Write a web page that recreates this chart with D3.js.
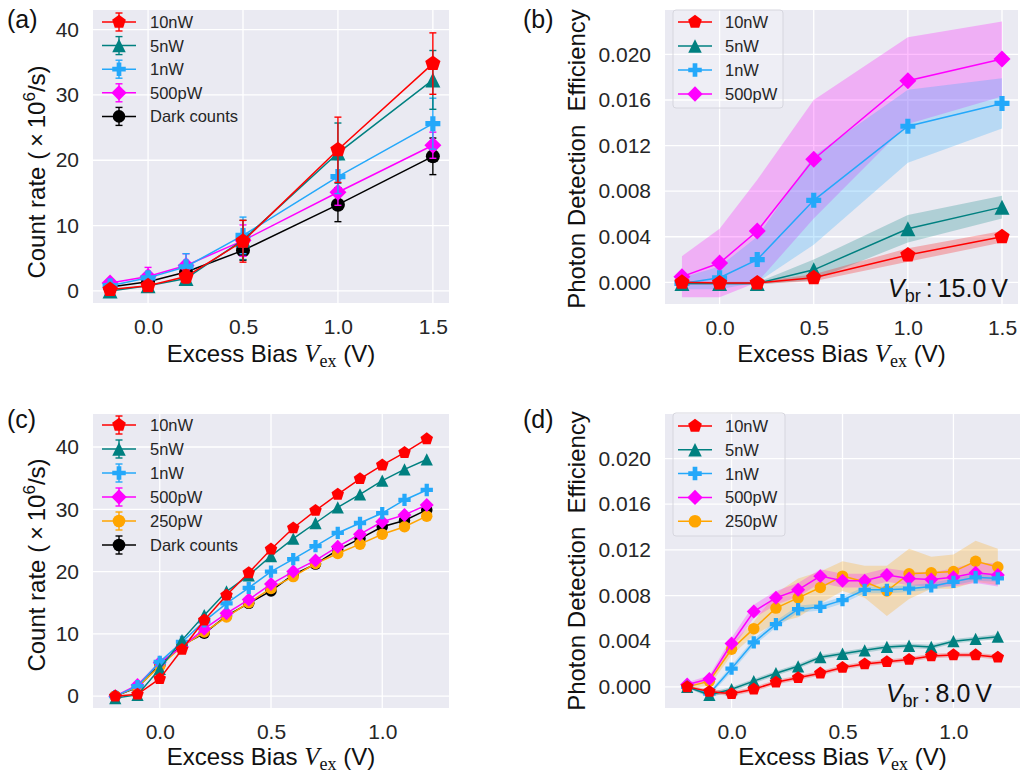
<!DOCTYPE html>
<html>
<head>
<meta charset="utf-8">
<script src="https://cdn.jsdelivr.net/npm/d3@7"></script>
<style>
body { margin: 0; background: #fff; }
text { font-family: "Liberation Sans", Arial, sans-serif; }
</style>
</head>
<body>
<script>
// ---- data ----
// (a) count rate, 15.0 V device
var xA = [-0.2, 0.0, 0.2, 0.5, 1.0, 1.5];
var a10nW = [0.2, 0.8, 2.2, 7.6, 21.6, 34.8];
var a10nWErr = [0.3, 0.5, 1.0, 3.2, 5.0, 4.7];
var a5nW = [0.0, 0.8, 1.9, 7.8, 21.1, 32.3];
var a5nWErr = [0.3, 0.5, 1.0, 3.0, 4.6, 4.5];
var a1nW = [0.8, 2.0, 3.7, 8.5, 17.5, 25.6];
var a1nWErr = [0.4, 0.8, 2.0, 2.8, 2.6, 3.9];
var a500pW = [1.2, 2.2, 3.9, 7.7, 15.1, 22.3];
var a500pWErr = [0.6, 1.4, 1.8, 2.4, 2.0, 2.0];
var aDark = [0.6, 1.4, 2.9, 6.2, 13.2, 20.6];
var aDarkErr = [0.4, 0.6, 1.0, 1.5, 2.6, 2.8];

// (b) PDE, 15.0 V device
var xB = [-0.2, 0.0, 0.2, 0.5, 1.0, 1.5];
var b10nW = [0.0, -0.00005, -0.00005, 0.0004, 0.0024, 0.0040];
var b10nWErr = [0.0001, 0.0001, 0.0001, 0.0003, 0.0006, 0.0005];
var b5nW = [-0.0001, -0.0001, -0.0001, 0.0011, 0.0047, 0.0066];
var b5nWErr = [0.0001, 0.0001, 0.0001, 0.0009, 0.0012, 0.0010];
var b1nW = [-0.0001, 0.0004, 0.0020, 0.0072, 0.0137, 0.0157];
var b1nWErr = [0.0005, 0.0010, 0.0020, 0.0039, 0.0032, 0.0022];
var b500pW = [0.0005, 0.0017, 0.0045, 0.0108, 0.0177, 0.0196];
var b500pWErr = [0.0018, 0.0030, 0.0045, 0.0052, 0.0038, 0.0033];

// (c) count rate, 8.0 V device
var xC = [-0.2, -0.1, 0.0, 0.1, 0.2, 0.3, 0.4, 0.5, 0.6, 0.7, 0.8, 0.9, 1.0, 1.1, 1.2];
var c10nW = [0.0, 0.3, 2.8, 7.5, 12.2, 16.2, 19.8, 23.6, 27.0, 29.8, 32.4, 34.9, 37.1, 39.1, 41.3];
var c5nW = [-0.3, 0.2, 4.4, 9.0, 13.0, 16.8, 19.4, 22.5, 25.3, 27.8, 30.3, 32.4, 34.6, 36.4, 38.0];
var c1nW = [0.0, 1.6, 5.5, 8.7, 12.0, 14.9, 17.4, 20.0, 22.0, 24.1, 26.2, 27.8, 29.4, 31.5, 33.1];
var c500pW = [0.0, 1.8, 5.4, 7.9, 10.8, 13.3, 15.5, 18.0, 20.0, 21.8, 24.0, 26.0, 28.0, 29.1, 30.7];
var c250pW = [0.0, 1.5, 4.8, 8.0, 10.3, 12.7, 15.0, 17.3, 19.2, 21.3, 22.9, 24.4, 26.0, 27.2, 28.9];
var cDark = [0.0, 1.4, 5.0, 8.2, 10.1, 12.9, 14.9, 16.9, 19.5, 21.2, 23.5, 25.3, 27.2, 28.2, 29.9];

// (d) PDE, 8.0 V device
var xD = [-0.2, -0.1, 0.0, 0.1, 0.2, 0.3, 0.4, 0.5, 0.6, 0.7, 0.8, 0.9, 1.0, 1.1, 1.2];
var d10nW = [0.0, -0.0004, -0.0006, -0.0002, 0.0004, 0.0008, 0.0012, 0.0017, 0.0020, 0.0022, 0.0024, 0.0027, 0.0028, 0.0028, 0.0026];
var d10nWErr = [0.0001, 0.0002, 0.0002, 0.0002, 0.0002, 0.0002, 0.0002, 0.0002, 0.0002, 0.0002, 0.0002, 0.0002, 0.0002, 0.0002, 0.0002];
var d5nW = [0.0, -0.0007, -0.0002, 0.0005, 0.0012, 0.0018, 0.0026, 0.0029, 0.0032, 0.0035, 0.0036, 0.0035, 0.0040, 0.0042, 0.0044];
var d5nWErr = [0.0001, 0.0002, 0.0002, 0.0002, 0.0002, 0.0002, 0.0002, 0.0002, 0.0002, 0.0002, 0.0002, 0.0002, 0.0002, 0.0002, 0.0002];
var d1nW = [0.0, -0.0006, 0.0016, 0.0039, 0.0055, 0.0068, 0.0070, 0.0076, 0.0085, 0.0085, 0.0086, 0.0088, 0.0092, 0.0096, 0.0095];
var d1nWErr = [0.0001, 0.0002, 0.0003, 0.0003, 0.0003, 0.0003, 0.0003, 0.0003, 0.0003, 0.0003, 0.0003, 0.0003, 0.0003, 0.0003, 0.0003];
var d500pW = [0.0002, 0.0007, 0.0038, 0.0066, 0.0078, 0.0085, 0.0097, 0.0093, 0.0093, 0.0098, 0.0095, 0.0094, 0.0096, 0.0100, 0.0098];
var d500pWErr = [0.0002, 0.0003, 0.0005, 0.0006, 0.0006, 0.0006, 0.0006, 0.0006, 0.0006, 0.0006, 0.0006, 0.0006, 0.0008, 0.0009, 0.0010];
var d250pW = [0.0, 0.0005, 0.0033, 0.0051, 0.0069, 0.0078, 0.0087, 0.0097, 0.0092, 0.0084, 0.0099, 0.0100, 0.0101, 0.0110, 0.0105];
var d250pWErr = [0.0002, 0.0004, 0.0005, 0.0006, 0.0013, 0.0017, 0.0014, 0.0013, 0.0014, 0.0022, 0.0022, 0.0014, 0.0015, 0.0018, 0.0016];

var countTicks = [0, 10, 20, 30, 40];
var pdeTicks = [0, 0.004, 0.008, 0.012, 0.016, 0.020];
var biasTicksTop = [0, 0.5, 1.0, 1.5];
var biasTicksBottom = [0, 0.5, 1.0];

// colours
var RED = '#ff0000', TEAL = '#008080', BLUE = '#24a8fa', MAG = '#ff00ff', ORANGE = '#ffa500', BLACK = '#000000';

var width = 1021;
var height = 775;

var svg = d3.select('body')
    .append('svg')
    .attr('width', width)
    .attr('height', height);

// marker shapes, k scales the size
function markerPath(type, k) {
    var p = d3.path();
    if (type == 'pentagon') {
        var r = 8 * k;
        for (var i = 0; i < 5; i++) {
            var a = (-90 + 72 * i) * Math.PI / 180;
            if (i == 0) p.moveTo(r * Math.cos(a), r * Math.sin(a));
            else p.lineTo(r * Math.cos(a), r * Math.sin(a));
        }
        p.closePath();
    } else if (type == 'triangle') {
        var h = 7.5 * k;
        p.moveTo(0, -h); p.lineTo(h, h); p.lineTo(-h, h); p.closePath();
    } else if (type == 'plus') {
        var a1 = 7.5 * k, b = 2.6 * k;
        var pts = [[-b,-a1],[b,-a1],[b,-b],[a1,-b],[a1,b],[b,b],[b,a1],[-b,a1],[-b,b],[-a1,b],[-a1,-b],[-b,-b]];
        pts.forEach(function(q, i) { if (i == 0) p.moveTo(q[0], q[1]); else p.lineTo(q[0], q[1]); });
        p.closePath();
    } else if (type == 'diamond') {
        var d = 8.5 * k;
        p.moveTo(0, -d); p.lineTo(d, 0); p.lineTo(0, d); p.lineTo(-d, 0); p.closePath();
    } else {
        var rc = 7 * k;
        p.arc(0, 0, rc, 0, 2 * Math.PI);
        p.closePath();
    }
    return p.toString();
}

var panels = [
    {
        id: 'a', left: 93, right: 449, top: 10, bottom: 303,
        xDom: [-0.29, 1.585], yDom: [-1.85, 43.0],
        xTicks: biasTicksTop, yTicks: countTicks, yFmt: d3.format('d'),
        mode: 'err', k: 1, x: xA,
        series: [
            {name: '10nW', y: a10nW, e: a10nWErr, color: RED, m: 'pentagon'},
            {name: '5nW', y: a5nW, e: a5nWErr, color: TEAL, m: 'triangle'},
            {name: '1nW', y: a1nW, e: a1nWErr, color: BLUE, m: 'plus'},
            {name: '500pW', y: a500pW, e: a500pWErr, color: MAG, m: 'diamond'},
            {name: 'Dark counts', y: aDark, e: aDarkErr, color: BLACK, m: 'circle'}
        ],
        ylab: 'count', ylabX: 37, ylabC: 172, letter: '(a)', letterX: 7, letterY: 28, xlabY: 362,
        legend: {mx: 119, y0: 22, dy: 23.6, tx: 150, frame: null}
    },
    {
        id: 'b', left: 665, right: 1018, top: 10, bottom: 304,
        xDom: [-0.29, 1.585], yDom: [-0.0019, 0.0239],
        xTicks: biasTicksTop, yTicks: pdeTicks, yFmt: d3.format('.3f'),
        mode: 'band', k: 1, x: xB,
        series: [
            {name: '10nW', y: b10nW, e: b10nWErr, color: RED, m: 'pentagon'},
            {name: '5nW', y: b5nW, e: b5nWErr, color: TEAL, m: 'triangle'},
            {name: '1nW', y: b1nW, e: b1nWErr, color: BLUE, m: 'plus'},
            {name: '500pW', y: b500pW, e: b500pWErr, color: MAG, m: 'diamond'}
        ],
        ylab: 'pde', ylabX: 577, ylabC: 159, letter: '(b)', letterX: 523, letterY: 28, xlabY: 362,
        legend: {mx: 695, y0: 22, dy: 24, tx: 725, frame: [673, 10, 110, 98]},
        vbr: '15.0', vbrX: 1008, vbrY: 297
    },
    {
        id: 'c', left: 93, right: 449, top: 414, bottom: 708,
        xDom: [-0.3, 1.3], yDom: [-1.9, 45.3],
        xTicks: biasTicksBottom, yTicks: countTicks, yFmt: d3.format('d'),
        mode: 'err', k: 0.82, x: xC,
        series: [
            {name: '10nW', y: c10nW, e: null, color: RED, m: 'pentagon'},
            {name: '5nW', y: c5nW, e: null, color: TEAL, m: 'triangle'},
            {name: '1nW', y: c1nW, e: null, color: BLUE, m: 'plus'},
            {name: '500pW', y: c500pW, e: null, color: MAG, m: 'diamond'},
            {name: '250pW', y: c250pW, e: null, color: ORANGE, m: 'circle'},
            {name: 'Dark counts', y: cDark, e: null, color: BLACK, m: 'circle'}
        ],
        ylab: 'count', ylabX: 37, ylabC: 565, letter: '(c)', letterX: 7, letterY: 428, xlabY: 765,
        legend: {mx: 119, y0: 425, dy: 24, tx: 150, frame: null}
    },
    {
        id: 'd', left: 665, right: 1020, top: 414, bottom: 708,
        xDom: [-0.3, 1.3], yDom: [-0.00185, 0.0239],
        xTicks: biasTicksBottom, yTicks: pdeTicks, yFmt: d3.format('.3f'),
        mode: 'band', k: 0.82, x: xD,
        series: [
            {name: '10nW', y: d10nW, e: d10nWErr, color: RED, m: 'pentagon'},
            {name: '5nW', y: d5nW, e: d5nWErr, color: TEAL, m: 'triangle'},
            {name: '1nW', y: d1nW, e: d1nWErr, color: BLUE, m: 'plus'},
            {name: '500pW', y: d500pW, e: d500pWErr, color: MAG, m: 'diamond'},
            {name: '250pW', y: d250pW, e: d250pWErr, color: ORANGE, m: 'circle'}
        ],
        ylab: 'pde', ylabX: 577, ylabC: 561, letter: '(d)', letterX: 523, letterY: 428, xlabY: 765,
        legend: {mx: 695, y0: 426, dy: 23.8, tx: 725, frame: [673, 413, 112, 123]},
        vbr: '8.0', vbrX: 992, vbrY: 702
    }
];

panels.forEach(drawPanel);

function drawPanel(P) {
    var xScale = d3.scaleLinear().domain(P.xDom).range([P.left, P.right]);
    var yScale = d3.scaleLinear().domain(P.yDom).range([P.bottom, P.top]);
    var g = svg.append('g').attr('id', 'panel-' + P.id);

    // background
    g.append('rect')
        .attr('x', P.left).attr('y', P.top)
        .attr('width', P.right - P.left).attr('height', P.bottom - P.top)
        .attr('fill', '#eaeaf2');

    g.append('clipPath').attr('id', 'clip-' + P.id)
        .append('rect')
        .attr('x', P.left).attr('y', P.top)
        .attr('width', P.right - P.left).attr('height', P.bottom - P.top);

    // grid
    g.selectAll('.gx').data(P.xTicks).enter().append('line')
        .attr('x1', function(d) { return xScale(d); }).attr('x2', function(d) { return xScale(d); })
        .attr('y1', P.top).attr('y2', P.bottom)
        .attr('stroke', '#fff').attr('stroke-width', 1.3);
    g.selectAll('.gy').data(P.yTicks).enter().append('line')
        .attr('y1', function(d) { return yScale(d); }).attr('y2', function(d) { return yScale(d); })
        .attr('x1', P.left).attr('x2', P.right)
        .attr('stroke', '#fff').attr('stroke-width', 1.3);

    // axes (labels only)
    var xAxis = d3.axisBottom(xScale).tickValues(P.xTicks).tickFormat(d3.format('.1f')).tickSize(0).tickPadding(16);
    var xg = g.append('g').attr('transform', 'translate(0,' + P.bottom + ')').call(xAxis);
    var yAxis = d3.axisLeft(yScale).tickValues(P.yTicks).tickFormat(P.yFmt).tickSize(0).tickPadding(14);
    var yg = g.append('g').attr('transform', 'translate(' + P.left + ',0)').call(yAxis);
    [xg, yg].forEach(function(ax) {
        ax.select('.domain').remove();
        ax.selectAll('text').attr('font-size', 21).attr('fill', '#262626')
            .attr('font-family', '"Liberation Sans", Arial, sans-serif');
    });

    var plot = g.append('g').attr('clip-path', 'url(#clip-' + P.id + ')');
    var line = d3.line()
        .x(function(d) { return xScale(d[0]); })
        .y(function(d) { return yScale(d[1]); });

    // later legend entries sit underneath, 10nW ends up on top
    var drawOrder = P.series.slice().reverse();

    if (P.mode == 'band') {
        drawOrder.forEach(function(s) {
            var area = d3.area()
                .x(function(d, i) { return xScale(P.x[i]); })
                .y0(function(d, i) { return yScale(s.y[i] - s.e[i]); })
                .y1(function(d, i) { return yScale(s.y[i] + s.e[i]); });
            plot.append('path').datum(s.y)
                .attr('d', area)
                .attr('fill', s.color)
                .attr('fill-opacity', 0.25)
                .attr('stroke', 'none');
        });
    }

    drawOrder.forEach(function(s) {
        var pts = P.x.map(function(x, i) { return [x, s.y[i]]; });
        g.append('path').datum(pts)
            .attr('clip-path', 'url(#clip-' + P.id + ')')
            .attr('d', line)
            .attr('fill', 'none')
            .attr('stroke', s.color)
            .attr('stroke-width', 1.5);

        if (P.mode == 'err' && s.e) {
            var eg = g.append('g').attr('stroke', s.color).attr('stroke-width', 1.4);
            pts.forEach(function(p, i) {
                var cx = xScale(p[0]);
                var y1 = yScale(p[1] - s.e[i]), y2 = yScale(p[1] + s.e[i]);
                eg.append('line').attr('x1', cx).attr('x2', cx).attr('y1', y1).attr('y2', y2);
                eg.append('line').attr('x1', cx - 3.5).attr('x2', cx + 3.5).attr('y1', y1).attr('y2', y1);
                eg.append('line').attr('x1', cx - 3.5).attr('x2', cx + 3.5).attr('y1', y2).attr('y2', y2);
            });
        }

        g.append('g').selectAll('path')
            .data(pts)
            .enter()
            .append('path')
            .attr('d', markerPath(s.m, P.k))
            .attr('transform', function(d) { return 'translate(' + xScale(d[0]) + ',' + yScale(d[1]) + ')'; })
            .attr('fill', s.color)
            .attr('stroke', 'none');
    });

    // legend
    var L = P.legend;
    if (L.frame) {
        g.append('rect')
            .attr('x', L.frame[0]).attr('y', L.frame[1])
            .attr('width', L.frame[2]).attr('height', L.frame[3])
            .attr('rx', 3)
            .attr('fill', '#ffffff').attr('fill-opacity', 0.22)
            .attr('stroke', '#d6d6de').attr('stroke-width', 1);
    }
    P.series.forEach(function(s, i) {
        var cy = L.y0 + i * L.dy;
        g.append('line')
            .attr('x1', L.mx - 17).attr('x2', L.mx + 17)
            .attr('y1', cy).attr('y2', cy)
            .attr('stroke', s.color).attr('stroke-width', 1.5);
        if (P.mode == 'err') {
            var lg = g.append('g').attr('stroke', s.color).attr('stroke-width', 1.4);
            lg.append('line').attr('x1', L.mx).attr('x2', L.mx).attr('y1', cy - 9).attr('y2', cy + 9);
            lg.append('line').attr('x1', L.mx - 3.5).attr('x2', L.mx + 3.5).attr('y1', cy - 9).attr('y2', cy - 9);
            lg.append('line').attr('x1', L.mx - 3.5).attr('x2', L.mx + 3.5).attr('y1', cy + 9).attr('y2', cy + 9);
        }
        g.append('path')
            .attr('d', markerPath(s.m, 0.9))
            .attr('transform', 'translate(' + L.mx + ',' + cy + ')')
            .attr('fill', s.color);
        g.append('text')
            .attr('x', L.tx).attr('y', cy + 6)
            .attr('font-size', 16.5).attr('fill', '#262626')
            .text(s.name);
    });

    // panel letter
    g.append('text')
        .attr('x', P.letterX).attr('y', P.letterY)
        .attr('font-size', 25).attr('fill', '#111')
        .text(P.letter);

    // x label
    var cxl = (P.left + P.right) / 2;
    var xl = g.append('text')
        .attr('x', cxl).attr('y', P.xlabY)
        .attr('text-anchor', 'middle')
        .attr('font-size', 24).attr('fill', '#111');
    xl.append('tspan').text('Excess Bias ');
    xl.append('tspan').attr('font-family', '"Liberation Serif", serif').attr('font-style', 'italic').attr('font-size', 25).text('V');
    xl.append('tspan').attr('font-family', '"Liberation Serif", serif').attr('font-size', 18).attr('dy', 5).text('ex');
    xl.append('tspan').attr('dy', -5).text(' (V)');

    // y label: measured so it is centred on ylabC
    var yl = g.append('text')
        .attr('text-anchor', 'start')
        .attr('dy', '0.35em')
        .attr('font-size', 24).attr('fill', '#111');
    if (P.ylab == 'count') {
        yl.append('tspan').text('Count rate (\u2009\u00d7\u200910');
        yl.append('tspan').attr('font-size', 17).attr('dy', -10).text('6');
        yl.append('tspan').attr('dy', 10).text('/s)');
    } else {
        yl.text('Photon Detection\u00a0\u00a0Efficiency');
    }
    var w = yl.node().getComputedTextLength();
    yl.attr('transform', 'translate(' + P.ylabX + ',' + (P.ylabC + w / 2) + ') rotate(-90)');

    // breakdown voltage note
    if (P.vbr) {
        var vt = g.append('text')
            .attr('x', P.vbrX).attr('y', P.vbrY)
            .attr('text-anchor', 'end')
            .attr('font-family', '"DejaVu Sans", sans-serif')
            .attr('font-size', 25).attr('fill', '#111');
        vt.append('tspan').attr('font-style', 'italic').text('V');
        vt.append('tspan').attr('font-size', 18).attr('dy', 5).text('br');
        vt.append('tspan').attr('dy', -5).text('\u2009:\u2009' + P.vbr + '\u2009V');
    }
}
</script>
</body>
</html>
